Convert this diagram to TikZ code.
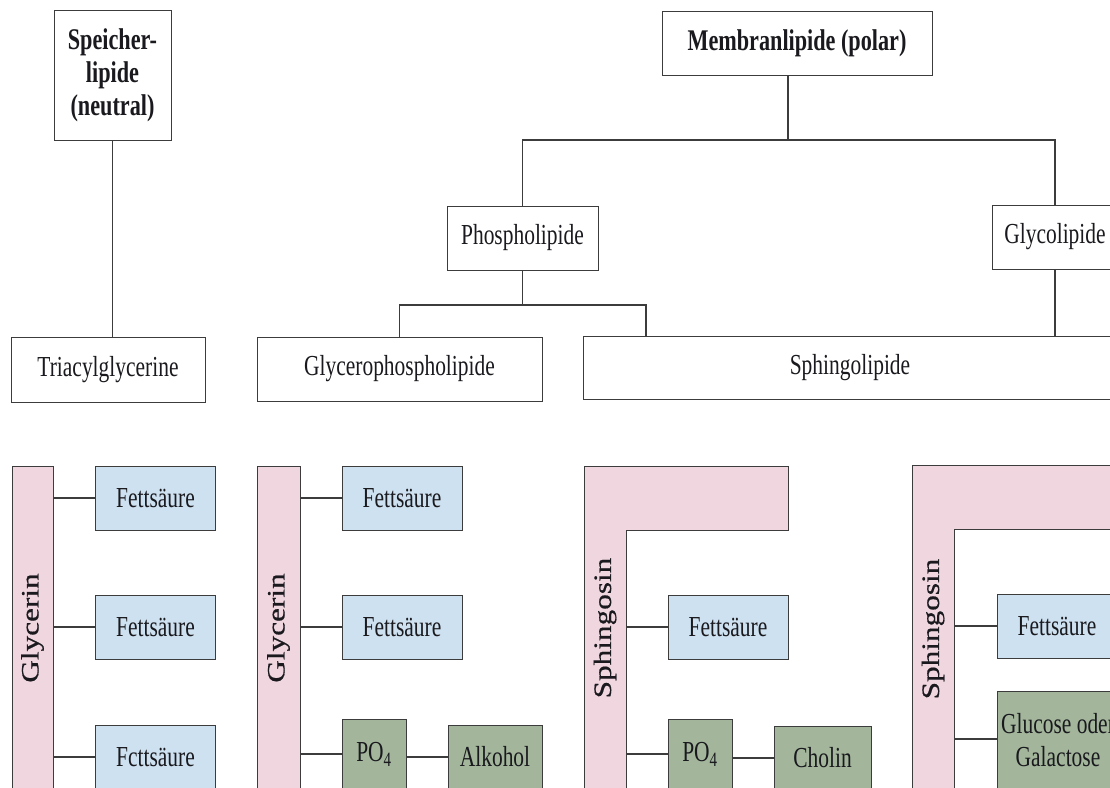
\documentclass[tikz,border=0pt]{standalone}
\usepackage{fontspec}
\newfontfamily\cond{Liberation Serif}[FakeStretch=0.74]
\newfontfamily\widef{Liberation Serif}[FakeStretch=1.25,FakeBold=0.6]
\definecolor{barpink}{RGB}{240,214,222}
\definecolor{fablue}{RGB}{206,225,240}
\definecolor{pogreen}{RGB}{163,182,155}
\definecolor{ln}{RGB}{60,60,60}
\definecolor{tx}{RGB}{25,25,30}
\begin{document}
\begin{tikzpicture}[x=1pt,y=-1pt,
 box/.style={draw=ln, line width=1pt, inner sep=0pt, align=center, text=tx, font=\cond\fontsize{29}{33}\selectfont},
 hbox/.style={box, font=\cond\bfseries\fontsize{30}{33}\selectfont},
 fabox/.style={box, fill=fablue, minimum width=120pt, minimum height=64pt},
 grbox/.style={box, fill=pogreen},
 barbox/.style={draw=ln, line width=1pt, fill=barpink, inner sep=0pt},
 barlabel/.style={rotate=90, text=tx, font=\widef\fontsize{25}{30}\selectfont, inner sep=0pt},
 conn/.style={draw=ln, line width=1.2pt}]
\useasboundingbox (0,0) rectangle (1110,787);
\begin{scope}
\clip (0,0) rectangle (1110,787);
% ---------- upper hierarchy ----------
\node[hbox, minimum width=117pt, minimum height=130pt] (speicher) at (112.5,75) {Speicher-\\lipide\\(neutral)};
\node[box, minimum width=194pt, minimum height=65pt] (triacyl) at (108,369.5) {Triacylglycerine};
\node[hbox, minimum width=270pt, minimum height=64pt] (membran) at (797,43) {Membranlipide (polar)};
\node[box, minimum width=151pt, minimum height=64pt] (phospho) at (522.5,238) {Phospholipide};
\node[box, minimum width=126pt, minimum height=64pt] (glyco) at (1055,237) {Glycolipide};
\node[box, minimum width=285pt, minimum height=64pt] (gpl) at (399.5,369) {Glycerophospholipide};
\node[box, minimum width=534pt, minimum height=63pt] (sphl) at (850,368) {Sphingolipide};

\coordinate (mj) at (788,140);
\coordinate (pj) at (522.5,305);
\coordinate (sj) at (646,336.5);
\draw[conn] (speicher.south) -- (speicher.south |- triacyl.north);
\draw[conn] (membran.south -| mj) -- (mj);
\draw[conn] (phospho.north) |- (mj) -| (glyco.north);
\draw[conn] (phospho.south) -- (pj);
\draw[conn] (gpl.north) |- (pj) -| (sj);
\draw[conn] (glyco.south) -- (glyco.south |- sphl.north);

% ---------- block A: Triacylglycerin ----------
\node[barbox, minimum width=41pt, minimum height=324pt] (gly1) at (32.5,628) {};
\node[barlabel] (gly1t) at (gly1.center) {Glycerin};
\node[fabox] (fa11) at (155.5,498) {Fettsäure};
\node[fabox] (fa12) at (155.5,627) {Fettsäure};
\node[fabox] (fa13) at (155.5,757) {Fcttsäure};
\draw[conn] (gly1.east |- fa11.west) -- (fa11.west);
\draw[conn] (gly1.east |- fa12.west) -- (fa12.west);
\draw[conn] (gly1.east |- fa13.west) -- (fa13.west);

% ---------- block B: Glycerophospholipid ----------
\node[barbox, minimum width=43pt, minimum height=324pt] (gly2) at (278.5,628) {};
\node[barlabel] (gly2t) at (gly2.center) {Glycerin};
\node[fabox] (fa21) at (402,498) {Fettsäure};
\node[fabox] (fa22) at (402,627) {Fettsäure};
\node[grbox, minimum width=64pt, minimum height=70pt] (po1) at (374,754) {PO\textsubscript{4}};
\node[grbox, minimum width=94pt, minimum height=64pt] (alk) at (495,757) {Alkohol};
\draw[conn] (gly2.east |- fa21.west) -- (fa21.west);
\draw[conn] (gly2.east |- fa22.west) -- (fa22.west);
\draw[conn] (gly2.east |- po1.west) -- (po1.west);
\draw[conn] (po1.east |- alk.west) -- (alk.west);

% ---------- block C: Sphingomyelin ----------
\draw[barbox] (584,466) -- (788,466) -- (788,530) -- (626,530) -- (626,790) -- (584,790) -- cycle;
\coordinate (sph1) at (626,628);
\node[barlabel] (sph1t) at (605,628) {Sphingosin};
\node[fabox] (fa31) at (728,627) {Fettsäure};
\node[grbox, minimum width=64pt, minimum height=70pt] (po2) at (700,754) {PO\textsubscript{4}};
\node[grbox, minimum width=97pt, minimum height=64pt] (chol) at (822.5,758) {Cholin};
\draw[conn] (sph1 |- fa31.west) -- (fa31.west);
\draw[conn] (sph1 |- po2.west) -- (po2.west);
\draw[conn] (po2.east |- chol.west) -- (chol.west);

% ---------- block D: Glycolipid ----------
\draw[barbox] (912,465) -- (1125,465) -- (1125,529) -- (954,529) -- (954,790) -- (912,790) -- cycle;
\coordinate (sph2) at (954,628);
\node[barlabel] (sph2t) at (933,629) {Sphingosin};
\node[fabox] (fa41) at (1057,626) {Fettsäure};
\node[grbox, minimum width=122pt, minimum height=98pt] (gluc) at (1058,740) {Glucose oder\\Galactose};
\draw[conn] (sph2 |- fa41.west) -- (fa41.west);
\draw[conn] (sph2 |- 0,739) -- (gluc.west |- 0,739);
\end{scope}
\end{tikzpicture}
\end{document}
